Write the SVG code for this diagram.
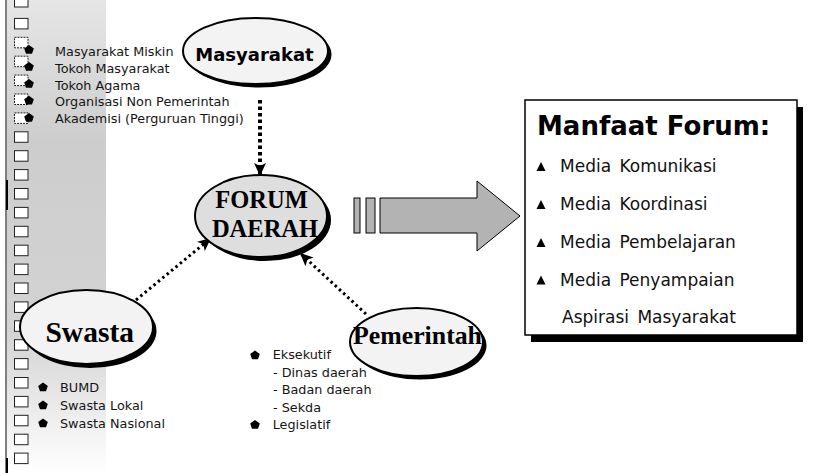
<svg xmlns="http://www.w3.org/2000/svg" xmlns:xlink="http://www.w3.org/1999/xlink" width="815" height="473" viewBox="0 0 815 473">
<style>
.box{fill:#fff;stroke:#222;stroke-width:1}
.boxd{fill:#fff;stroke:#222;stroke-width:1;stroke-dasharray:2 1}
.lst{font-family:"DejaVu Sans",sans-serif;font-size:12.8px;fill:#151515}
.mf{font-family:"DejaVu Sans",sans-serif;font-size:17px;fill:#111;word-spacing:3px}
.shadow{fill:#000}
.ell{fill:#f3f3f3;stroke:#000;stroke-width:2}
.serif{font-family:"Liberation Serif","Times New Roman",serif;font-weight:bold;fill:#000;text-anchor:middle}
.sansb{font-family:"DejaVu Sans",sans-serif;font-weight:bold;fill:#000}
.dot{fill:none;stroke:#000;stroke-linecap:butt}
.arr{fill:#b3b3b3;stroke:#000;stroke-width:1}
</style>
<defs>
<linearGradient id="panel" x1="0" y1="0" x2="0" y2="1">
<stop offset="0" stop-color="#e6e6e6"/>
<stop offset="0.3" stop-color="#cdcdcd"/>
<stop offset="0.7" stop-color="#d3d3d3"/>
<stop offset="1" stop-color="#ffffff"/>
</linearGradient>
<path id="pent" d="M0,-4.6 L4.8,-1 L3,4.3 L-3,4.3 L-4.8,-1 Z" fill="#000"/>
<path id="tri" d="M-4.5,0 L4.5,0 L0,-9 Z" fill="#000"/>
<marker id="ah" markerUnits="userSpaceOnUse" markerWidth="14" markerHeight="14" viewBox="0 0 14 14" refX="13" refY="7" orient="auto">
<path d="M0,1 L13,7 L0,13 L3,7 Z" fill="#000"/>
</marker>
</defs>

<g id="panel-strip">
<rect x="7" y="0" width="99" height="473" fill="url(#panel)"/>
<line x1="6" y1="0" x2="6" y2="473" stroke="#000" stroke-width="1"/>
<rect x="6" y="180" width="2" height="30" fill="#000"/>
<rect x="6" y="458" width="2" height="15" fill="#000"/>
<rect class="box" x="14.5" y="-0.5" width="13.5" height="7.5"/>
<rect class="box" x="14.5" y="18.4" width="13.5" height="10.5"/>
<rect class="boxd" x="14.5" y="37.3" width="13.5" height="10.5"/>
<rect class="boxd" x="14.5" y="56.2" width="13.5" height="10.5"/>
<rect class="boxd" x="14.5" y="75.1" width="13.5" height="10.5"/>
<rect class="boxd" x="14.5" y="94" width="13.5" height="10.5"/>
<rect class="boxd" x="14.5" y="112.9" width="13.5" height="10.5"/>
<rect class="box" x="14.5" y="131.8" width="13.5" height="10.5"/>
<rect class="box" x="14.5" y="150.7" width="13.5" height="10.5"/>
<rect class="box" x="14.5" y="169.6" width="13.5" height="10.5"/>
<rect class="box" x="14.5" y="188.5" width="13.5" height="10.5"/>
<rect class="box" x="14.5" y="207.4" width="13.5" height="10.5"/>
<rect class="box" x="14.5" y="226.3" width="13.5" height="10.5"/>
<rect class="box" x="14.5" y="245.2" width="13.5" height="10.5"/>
<rect class="box" x="14.5" y="264.1" width="13.5" height="10.5"/>
<rect class="box" x="14.5" y="283" width="13.5" height="10.5"/>
<rect class="box" x="14.5" y="301.9" width="13.5" height="10.5"/>
<rect class="box" x="14.5" y="320.8" width="13.5" height="10.5"/>
<rect class="box" x="14.5" y="339.7" width="13.5" height="10.5"/>
<rect class="box" x="14.5" y="358.6" width="13.5" height="10.5"/>
<rect class="box" x="14.5" y="377.5" width="13.5" height="10.5"/>
<rect class="box" x="14.5" y="396.4" width="13.5" height="10.5"/>
<rect class="box" x="14.5" y="415.3" width="13.5" height="10.5"/>
<rect class="box" x="14.5" y="434.2" width="13.5" height="10.5"/>
<rect class="box" x="14.5" y="453.1" width="13.5" height="10.5"/>
</g>

<g id="masyarakat-list">
<use href="#pent" x="29" y="49.5"/>
<use href="#pent" x="29" y="66.5"/>
<use href="#pent" x="29" y="83.5"/>
<use href="#pent" x="29" y="100.3"/>
<use href="#pent" x="29" y="117.5"/>
<text class="lst" x="55" y="56">Masyarakat Miskin</text>
<text class="lst" x="55" y="72.8">Tokoh Masyarakat</text>
<text class="lst" x="55" y="89.6">Tokoh Agama</text>
<text class="lst" x="55" y="106.4">Organisasi Non Pemerintah</text>
<text class="lst" x="55" y="123.2">Akademisi (Perguruan Tinggi)</text>
</g>

<g id="connectors">
<line class="dot" x1="260" y1="100" x2="260" y2="176" stroke-width="4" stroke-dasharray="3.5 3" marker-end="url(#ah)"/>
<line class="dot" x1="136" y1="300" x2="211" y2="238" stroke-width="3" stroke-dasharray="2.5 3.2" marker-end="url(#ah)"/>
<line class="dot" x1="366" y1="314" x2="300" y2="253" stroke-width="3" stroke-dasharray="2.5 3.2" marker-end="url(#ah)"/>
</g>

<g id="masyarakat">
<ellipse class="shadow" cx="259" cy="54.5" rx="72.5" ry="33"/>
<ellipse class="ell" cx="255.5" cy="51" rx="72.5" ry="33"/>
<text class="sansb" x="254.5" y="61" font-size="18" text-anchor="middle">Masyarakat</text>
</g>

<g id="forum-daerah">
<ellipse class="shadow" cx="265" cy="220" rx="66" ry="41"/>
<ellipse class="ell" cx="261" cy="216" rx="66" ry="41" style="fill:#dedede"/>
<text class="serif" x="261.5" y="208" font-size="24.5">FORUM</text>
<text class="serif" x="265" y="237" font-size="24.5">DAERAH</text>
</g>

<g id="swasta">
<ellipse class="shadow" cx="90" cy="331" rx="66.5" ry="37"/>
<ellipse class="ell" cx="86.5" cy="327" rx="66.5" ry="37"/>
<text class="serif" x="89.7" y="341.7" font-size="29.5">Swasta</text>
</g>

<g id="pemerintah">
<ellipse class="shadow" cx="420" cy="345.5" rx="66.5" ry="34"/>
<ellipse class="ell" cx="416.5" cy="342" rx="66.5" ry="34"/>
<text class="serif" x="417.5" y="344" font-size="25.8">Pemerintah</text>
</g>

<g id="swasta-list">
<use href="#pent" x="43" y="387"/>
<use href="#pent" x="43" y="405"/>
<use href="#pent" x="43" y="423"/>
<text class="lst" x="60" y="391.7">BUMD</text>
<text class="lst" x="60" y="410">Swasta Lokal</text>
<text class="lst" x="60" y="427.7">Swasta Nasional</text>
</g>

<g id="pemerintah-list">
<use href="#pent" x="255" y="355"/>
<use href="#pent" x="255" y="424.5"/>
<text class="lst" x="272.7" y="359">Eksekutif</text>
<text class="lst" x="273" y="376.5">- Dinas daerah</text>
<text class="lst" x="273" y="394">- Badan daerah</text>
<text class="lst" x="273" y="411.5">- Sekda</text>
<text class="lst" x="272.7" y="429">Legislatif</text>
</g>

<g id="big-arrow">
<rect class="arr" x="354" y="198" width="6" height="35"/>
<rect class="arr" x="366" y="198" width="9" height="35"/>
<path class="arr" d="M380,198 L477,198 L477,181 L520,216 L477,251 L477,233 L380,233 Z"/>
</g>

<g id="manfaat-forum">
<rect x="531" y="107" width="272" height="235" fill="#000"/>
<rect x="525" y="100" width="272" height="235" fill="#fff" stroke="#000" stroke-width="1.5"/>
<text class="sansb" x="537" y="135" font-size="26">Manfaat Forum:</text>
<use href="#tri" x="541" y="171"/>
<use href="#tri" x="541" y="209"/>
<use href="#tri" x="541" y="247"/>
<use href="#tri" x="541" y="284.5"/>
<text class="mf" x="560" y="172">Media Komunikasi</text>
<text class="mf" x="560" y="210">Media Koordinasi</text>
<text class="mf" x="560" y="247.7">Media Pembelajaran</text>
<text class="mf" x="560" y="285.5">Media Penyampaian</text>
<text class="mf" x="562" y="323">Aspirasi Masyarakat</text>
</g>
</svg>
